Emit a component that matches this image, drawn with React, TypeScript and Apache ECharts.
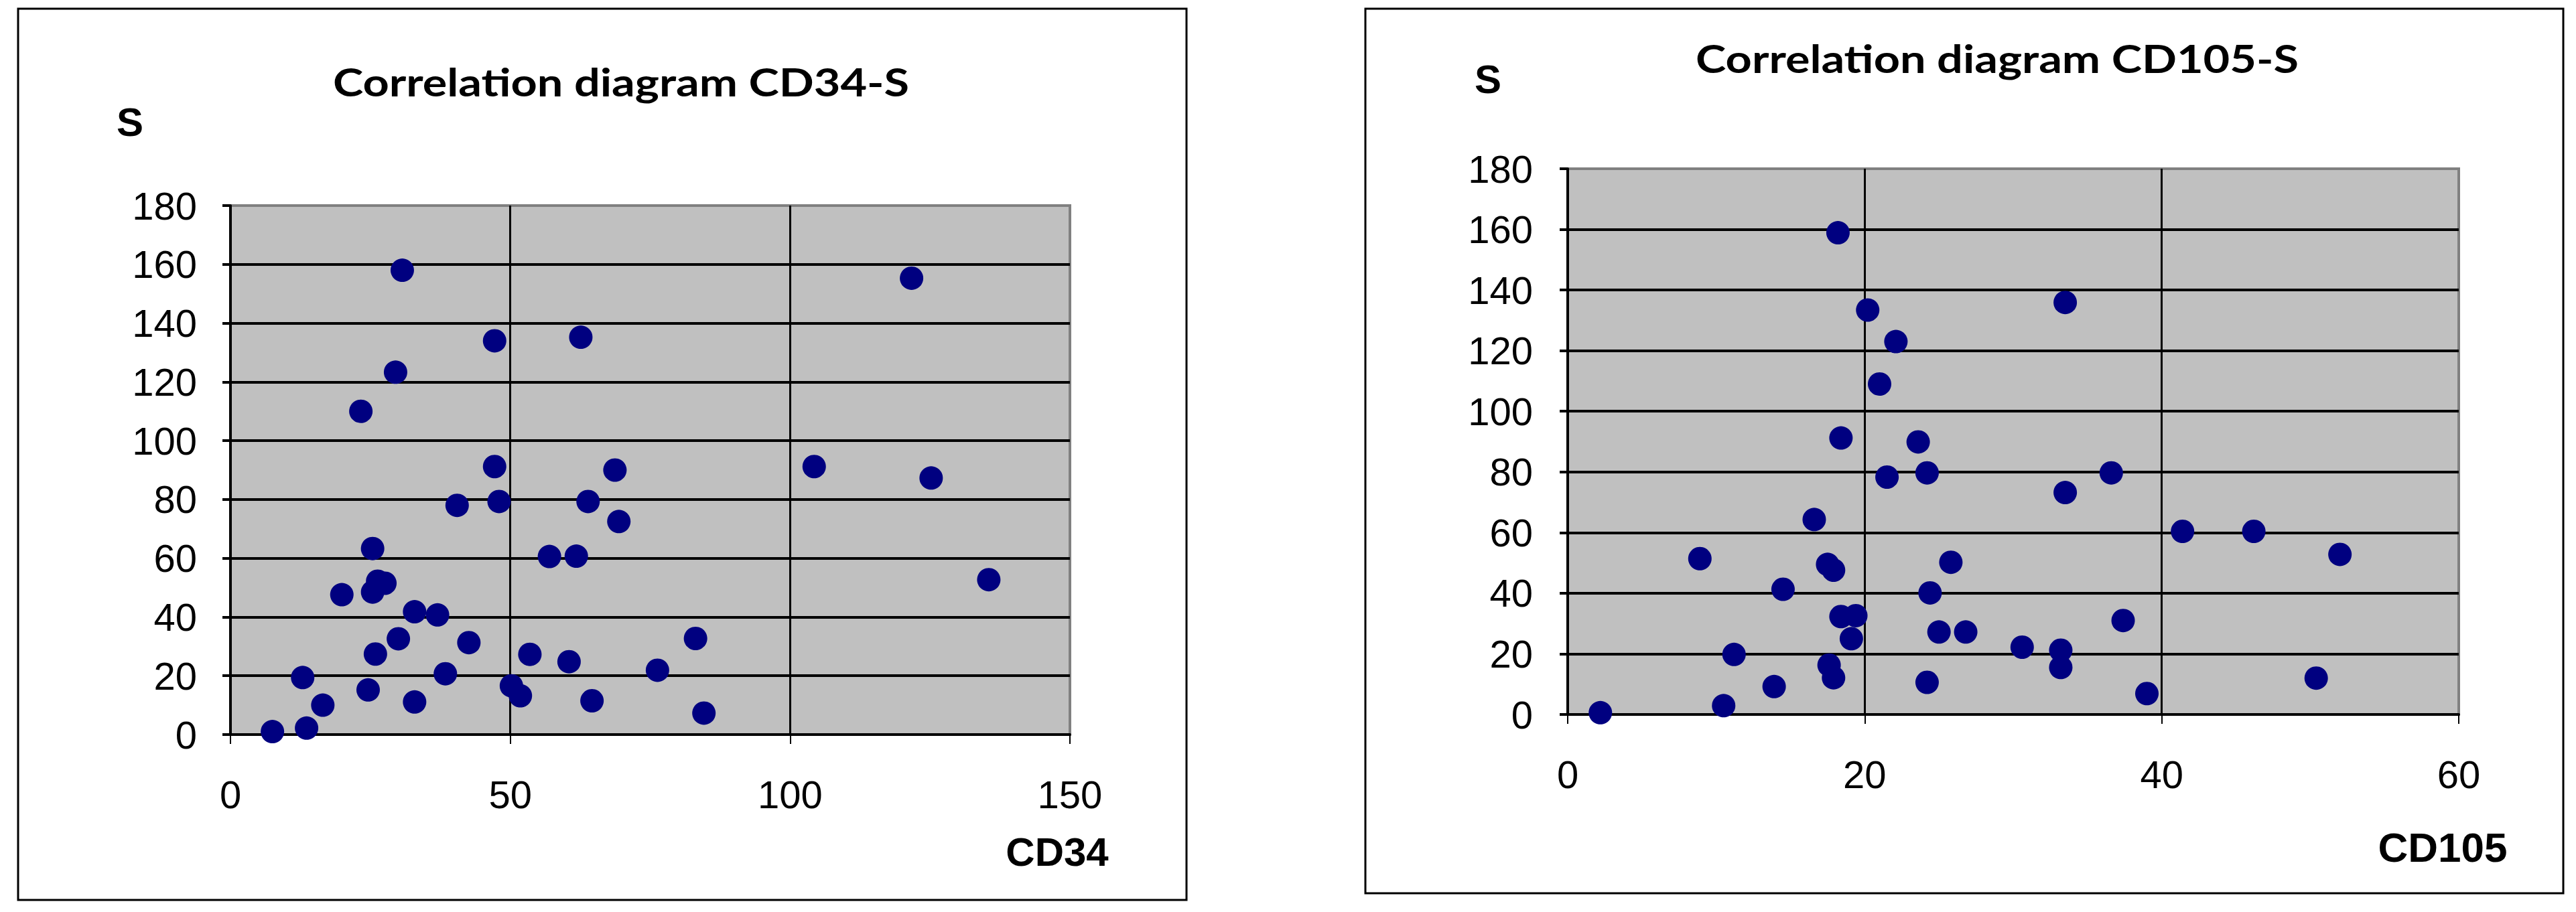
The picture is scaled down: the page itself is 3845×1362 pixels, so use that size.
import React, { useEffect, useRef } from "react";
import * as echarts from "echarts";

// ---- Data: CD34 vs S ----
const cd34Values = [
  7.5, 13.6, 12.9, 16.5, 19.9, 23.3, 24.6, 25.4, 25.4, 26.3, 27.6, 25.9, 29.5, 30.7,
  30.0, 32.9, 32.9, 37.0, 38.4, 40.5, 42.6, 47.2, 47.2, 48.0, 50.2, 51.8, 53.5, 57.0,
  60.5, 61.8, 62.6, 63.9, 64.6, 68.7, 69.4, 76.3, 83.1, 84.6, 104.3, 121.7, 125.2, 135.5,
];
const sValuesCd34 = [
  1, 2.2, 19.4, 10, 47.6, 110, 15.2, 63.3, 48.5, 52.2, 51.5, 27.4, 123.3, 158,
  32.6, 41.8, 11.1, 40.7, 20.7, 78, 31.3, 134, 91.2, 79.3, 16.6, 13.2, 27.3, 60.6,
  24.8, 60.7, 135.2, 79.3, 11.5, 90, 72.5, 21.9, 32.7, 7.3, 91.2, 155.3, 87.3, 52.7,
];

// ---- Data: CD105 vs S ----
const cd105Values = [
  2.2, 8.9, 10.5, 11.2, 13.9, 14.5, 16.6, 17.5, 17.9, 17.6, 17.9, 18.2, 18.4, 18.4,
  19.4, 19.1, 20.2, 22.1, 21.0, 21.5, 23.6, 24.2, 24.4, 25.8, 25.0, 26.8, 24.2, 30.6,
  33.2, 33.2, 33.5, 33.5, 36.6, 37.4, 39.0, 41.4, 46.2, 52.0, 50.4,
];
const sValuesCd105 = [
  0.6, 51.4, 2.9, 19.8, 9.2, 41.3, 64.3, 49.5, 47.6, 16.3, 12.1, 158.9, 91.2, 32.3,
  32.6, 25.0, 133.4, 123.0, 109.0, 78.3, 89.9, 79.7, 40.1, 50.2, 27.2, 27.2, 10.6, 22.2,
  21.2, 15.5, 135.9, 73.2, 79.7, 31.0, 6.9, 60.4, 60.4, 52.8, 12.0,
];

// ---- Axis scales / tick labels ----
const cd34Axis = { min: 0, max: 150, interval: 50 };
const cd105Axis = { min: 0, max: 60, interval: 20 };
const sAxis = { min: 0, max: 180, interval: 20 };

const titles = ["Correlation diagram CD34-S", "Correlation diagram CD105-S"];
const yNames = ["S", "S"];
const xNames = ["CD34", "CD105"];

const LABEL_FONT = "'Liberation Sans', Arial, sans-serif";
const TITLE_FONT = "Lato, 'Open Sans', sans-serif";

function makeX(gridIndex: number, ax: { min: number; max: number; interval: number }) {
  return {
    type: "value",
    gridIndex,
    min: ax.min,
    max: ax.max,
    interval: ax.interval,
    axisLine: { show: true, onZero: false, lineStyle: { color: "#000", width: 4 } },
    axisTick: { show: true, length: 14, lineStyle: { color: "#000", width: 2 } },
    axisLabel: { margin: 60, fontSize: 58, color: "#000", fontFamily: LABEL_FONT },
    splitLine: {
      show: true,
      showMinLine: false,
      showMaxLine: false,
      lineStyle: { color: "#000", width: 3 },
    },
  };
}

function makeY(gridIndex: number, margin: number) {
  return {
    type: "value",
    gridIndex,
    min: sAxis.min,
    max: sAxis.max,
    interval: sAxis.interval,
    axisLine: { show: true, onZero: false, lineStyle: { color: "#000", width: 4 } },
    axisTick: { show: true, length: 12, lineStyle: { color: "#000", width: 4 } },
    axisLabel: { margin, fontSize: 58, color: "#000", fontFamily: LABEL_FONT },
    splitLine: {
      show: true,
      showMinLine: false,
      showMaxLine: false,
      lineStyle: { color: "#000", width: 4 },
    },
  };
}

function textEl(
  text: string,
  x: number,
  y: number,
  size: number,
  family: string,
  scaleX: number = 1
) {
  return {
    type: "text",
    x,
    y,
    scaleX,
    z: 10,
    style: {
      text,
      fill: "#000",
      fontSize: size,
      fontWeight: "bold",
      fontFamily: family,
      align: "center",
      verticalAlign: "middle",
      textAlign: "center",
      textVerticalAlign: "middle",
    },
  };
}

export default function App() {
  const ref = useRef<HTMLDivElement | null>(null);

  useEffect(() => {
    if (!ref.current) return;
    const chart = echarts.init(ref.current, undefined, { renderer: "svg" });

    const leftData = cd34Values.map((v, i) => [v, sValuesCd34[i]]);
    const rightData = cd105Values.map((v, i) => [v, sValuesCd105[i]]);

    const gridStyle = {
      show: true,
      backgroundColor: "#c0c0c0",
      borderColor: "#808080",
      borderWidth: 4,
      containLabel: false,
    };

    chart.setOption({
      animation: false,
      backgroundColor: "#ffffff",
      grid: [
        { ...gridStyle, left: 344, top: 307, width: 1253, height: 790 },
        { ...gridStyle, left: 2340, top: 252, width: 1330, height: 815 },
      ],
      xAxis: [makeX(0, cd34Axis), makeX(1, cd105Axis)],
      yAxis: [makeY(0, 50), makeY(1, 52)],
      series: [
        {
          type: "scatter",
          xAxisIndex: 0,
          yAxisIndex: 0,
          data: leftData,
          symbol: "circle",
          symbolSize: 35,
          clip: false,
          z: 5,
          itemStyle: { color: "#000080", opacity: 1 },
        },
        {
          type: "scatter",
          xAxisIndex: 1,
          yAxisIndex: 1,
          data: rightData,
          symbol: "circle",
          symbolSize: 35,
          clip: false,
          z: 5,
          itemStyle: { color: "#000080", opacity: 1 },
        },
      ],
      graphic: [
        {
          type: "rect",
          shape: { x: 27, y: 13, width: 1744, height: 1331 },
          style: { fill: "none", stroke: "#000", lineWidth: 3 },
          z: 10,
        },
        {
          type: "rect",
          shape: { x: 2038, y: 13, width: 1788, height: 1321 },
          style: { fill: "none", stroke: "#000", lineWidth: 3 },
          z: 10,
        },
        textEl(titles[0], 927, 122, 57, TITLE_FONT, 1.2),
        textEl(titles[1], 2981, 87, 57, TITLE_FONT, 1.2),
        textEl(yNames[0], 194, 182, 60, LABEL_FONT),
        textEl(yNames[1], 2221, 118, 60, LABEL_FONT),
        textEl(xNames[0], 1578, 1272, 60, LABEL_FONT),
        textEl(xNames[1], 3646, 1265, 62, LABEL_FONT),
      ],
    });

    return () => {
      chart.dispose();
    };
  }, []);

  return (
    <div
      ref={ref}
      style={{ position: "absolute", left: 0, top: 0, width: "3845px", height: "1362px" }}
    />
  );
}
